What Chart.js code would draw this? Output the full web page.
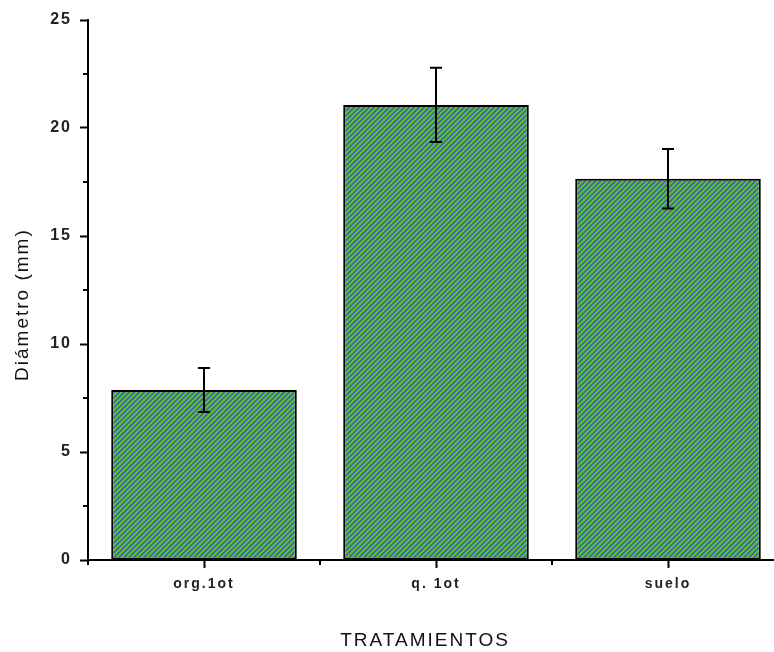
<!DOCTYPE html>
<html>
<head>
<meta charset="utf-8">
<script src="https://cdn.jsdelivr.net/npm/chart.js@4"></script>
<style>
  html, body { margin: 0; padding: 0; background: #fff; overflow: hidden; }
  #wrap { width: 800px; height: 652px; position: relative; }
</style>
</head>
<body>
<div id="wrap"><canvas id="chart"></canvas></div>
<script>
// data
const categories = ['org.1ot', 'q. 1ot', 'suelo'];
const diameterMeans = [7.87, 21.07, 17.65];
const diameterErrors = [1.02, 1.72, 1.38];
const yTicksMajor = [0, 5, 10, 15, 20, 25];

// green / blue diagonal hatch like the original fill
function makeHatch() {
  const c = document.createElement('canvas');
  c.width = 5; c.height = 5;
  const g = c.getContext('2d');
  g.fillStyle = '#58bb36';
  g.fillRect(0, 0, 5, 5);
  g.fillStyle = '#3f5fb5';
  for (let x = 0; x < 5; x++) {
    for (let y = 0; y < 5; y++) {
      if ((x + y) % 5 < 2) g.fillRect(x, y, 1, 1);
    }
  }
  return g.createPattern(c, 'repeat');
}

// wide letter spacing like the old bitmap font
const spacingPlugin = {
  id: 'spacing',
  beforeUpdate(chart) { chart.ctx.letterSpacing = '2px'; },
  beforeDraw(chart) { chart.ctx.letterSpacing = '2px'; }
};

// error bars + minor ticks
const extrasPlugin = {
  id: 'extras',
  afterDatasetsDraw(chart) {
    const ctx = chart.ctx;
    const yS = chart.scales.y;
    const xS = chart.scales.x;
    const meta = chart.getDatasetMeta(0);
    ctx.save();
    ctx.strokeStyle = '#000';
    ctx.lineWidth = 2;
    meta.data.forEach((bar, i) => {
      const x = bar.x;
      const top = yS.getPixelForValue(diameterMeans[i] + diameterErrors[i]);
      const bot = yS.getPixelForValue(diameterMeans[i] - diameterErrors[i]);
      ctx.beginPath();
      ctx.moveTo(x, top); ctx.lineTo(x, bot);
      ctx.moveTo(x - 6, top); ctx.lineTo(x + 6, top);
      ctx.moveTo(x - 6, bot); ctx.lineTo(x + 6, bot);
      ctx.stroke();
    });
    // minor y ticks
    yS.ticks.forEach(t => {
      if (yTicksMajor.indexOf(t.value) === -1) {
        const py = yS.getPixelForValue(t.value);
        ctx.beginPath();
        ctx.moveTo(yS.right - 5, py); ctx.lineTo(yS.right, py);
        ctx.stroke();
      }
    });
    // y axis runs a little below the x axis
    ctx.beginPath();
    ctx.moveTo(yS.right, yS.bottom); ctx.lineTo(yS.right, yS.bottom + 5);
    ctx.stroke();
    // minor x ticks between categories
    for (let i = 1; i < categories.length; i++) {
      const px = (xS.getPixelForValue(i - 1) + xS.getPixelForValue(i)) / 2;
      ctx.beginPath();
      ctx.moveTo(px, xS.top); ctx.lineTo(px, xS.top + 5);
      ctx.stroke();
    }
    ctx.restore();
  }
};

new Chart(document.getElementById('chart'), {
  type: 'bar',
  data: {
    labels: categories,
    datasets: [{
      label: 'Diámetro',
      data: diameterMeans,
      backgroundColor: makeHatch(),
      borderColor: '#000',
      borderWidth: 2,
      borderSkipped: false,
      categoryPercentage: 1.0,
      barPercentage: 0.8
    }]
  },
  options: {
    responsive: true,
    maintainAspectRatio: false,
    animation: false,
    layout: { padding: { top: 20, right: 16, left: 0, bottom: 0 } },
    plugins: {
      legend: { display: false },
      tooltip: { enabled: false }
    },
    scales: {
      x: {
        offset: true,
        grid: { display: true, drawOnChartArea: false, offset: false, tickLength: 8, tickColor: '#000', tickWidth: 2 },
        border: { display: true, color: '#000', width: 2 },
        ticks: { color: '#222', padding: 8, font: { family: 'Liberation Sans', size: 14, weight: 'bold' } },
        // trailing spaces nudge the centred title a little to the left, as in the original
        title: { display: true, text: 'TRATAMIENTOS   ', color: '#111', padding: { top: 0, bottom: 0 }, font: { family: 'Liberation Sans', size: 19 } },
        afterFit(scale) { scale.height = 92; }
      },
      y: {
        min: 0,
        max: 25,
        grid: {
          display: true, drawOnChartArea: false, tickLength: 8, tickWidth: 2,
          tickColor: (c) => (c.tick && yTicksMajor.indexOf(c.tick.value) !== -1 ? '#000' : 'rgba(0,0,0,0)')
        },
        border: { display: true, color: '#000', width: 2 },
        ticks: {
          stepSize: 2.5,
          color: '#222',
          padding: 8,
          font: { family: 'Liberation Sans', size: 16, weight: 'bold' },
          callback: (v) => (yTicksMajor.indexOf(v) !== -1 ? v : '')
        },
        // trailing spaces push the rotated title slightly down
        title: { display: true, text: 'Diámetro (mm)    ', color: '#111', padding: { top: 11, bottom: 0 }, font: { family: 'Liberation Sans', size: 19 } },
        afterFit(scale) { scale.width = 88; }
      }
    }
  },
  plugins: [spacingPlugin, extrasPlugin]
});
</script>
</body>
</html>
